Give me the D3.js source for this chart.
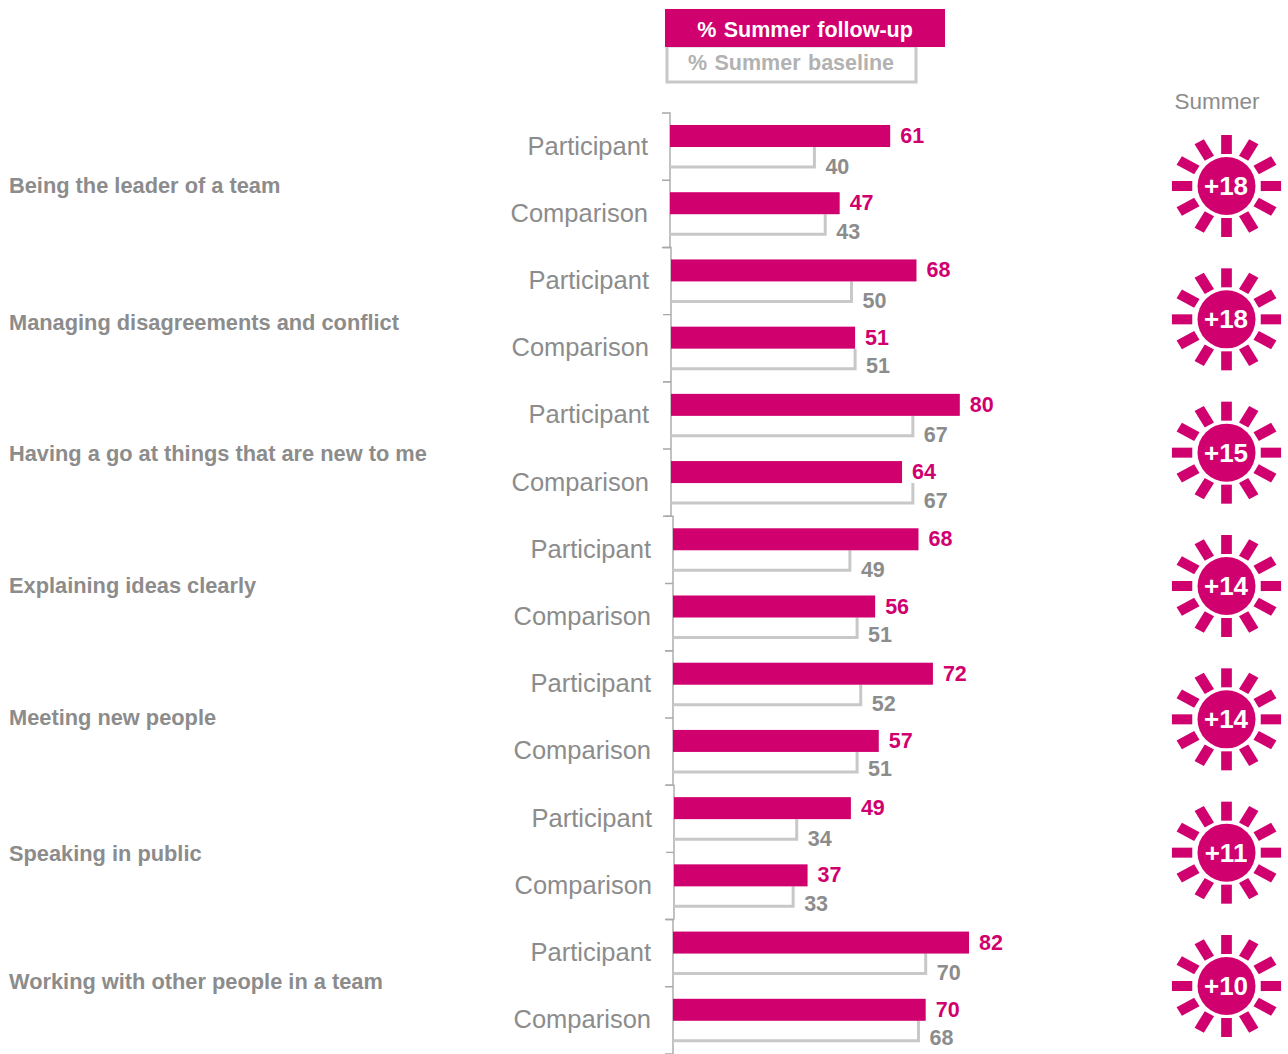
<!DOCTYPE html>
<html>
<head>
<meta charset="utf-8">
<script src="https://cdnjs.cloudflare.com/ajax/libs/d3/7.8.5/d3.min.js"></script>
<style>
html,body{margin:0;padding:0;background:#fff}
svg{display:block;font-family:"Liberation Sans",Arial,sans-serif}
</style>
</head>
<body>
<svg id="chart" width="1288" height="1054"></svg>
<script>
// Survey results: share of young people reporting confidence, by skill and group
const skills = [
  "Being the leader of a team",
  "Managing disagreements and conflict",
  "Having a go at things that are new to me",
  "Explaining ideas clearly",
  "Meeting new people",
  "Speaking in public",
  "Working with other people in a team"
];
const groups = ["Participant", "Comparison"];
const followUp = [[61,47],[68,51],[80,64],[68,56],[72,57],[49,37],[82,70]];
const baseline = [[40,43],[50,51],[67,67],[49,51],[52,51],[34,33],[70,68]];
const summerChange = ["+18","+18","+15","+14","+14","+11","+10"];
const legendLabels = ["% Summer follow-up", "% Summer baseline"];
const changeTitle = "Summer";

// Layout and colours
const PINK = "#d0006f", GREY_TEXT = "#8c8c8c", GREY_LINE = "#c8c8c8", AXIS = "#a8a8a8";
const panelX = [670, 671, 671, 673, 673, 674, 673];
const skillLabelY = [185, 322, 453, 585, 717, 853, 981];
const rayAngles = d3.range(12).map(i => i * 30);

const svg = d3.select("#chart");
const x = d3.scaleLinear().domain([0, 100]).range([0, 361]);
const rowKeys = d3.range(14);
const y = d3.scaleBand().domain(rowKeys).range([113, 1054]);
const sunY = d3.scalePoint().domain(d3.range(7)).range([186, 986]);

// Legend
const legend = svg.append("g");
legend.append("rect").attr("x", 667).attr("y", 46).attr("width", 249).attr("height", 36)
  .attr("fill", "#fff").attr("stroke", GREY_LINE).attr("stroke-width", 3);
legend.append("rect").attr("x", 665).attr("y", 9).attr("width", 280).attr("height", 38).attr("fill", PINK);
legend.append("text").text(legendLabels[0]).attr("x", 805).attr("y", 36.5)
  .attr("text-anchor", "middle").attr("fill", "#fff")
  .attr("font-size", 21.5).attr("font-weight", 700).attr("word-spacing", 1.5);
legend.append("text").text(legendLabels[1]).attr("x", 791).attr("y", 70)
  .attr("text-anchor", "middle").attr("fill", "#b2b2b2")
  .attr("font-size", 21.5).attr("font-weight", 700).attr("word-spacing", 1.5);

// Skill labels on the far left
svg.append("g").selectAll("text").data(skills).join("text")
  .text(d => d).attr("x", 9).attr("y", (d, i) => skillLabelY[i] + 7.5)
  .attr("fill", GREY_TEXT).attr("font-size", 21.8).attr("font-weight", 700);

// One panel per skill: axis, group labels and paired bars
skills.forEach((skill, s) => {
  const panel = svg.append("g").attr("transform", `translate(${panelX[s]},0)`);
  const rows = groups.map((g, r) => ({
    group: g, row: s * 2 + r, r, now: followUp[s][r], before: baseline[s][r]
  }));

  const top = y(rows[0].row), bottom = y(rows[1].row) + y.bandwidth();
  const mid = y(rows[1].row);
  panel.append("path")
    .attr("d", `M-8,${top}H0V${bottom}` + `M-8,${mid}H0` + `M-8,${bottom}H0`)
    .attr("fill", "none").attr("stroke", AXIS).attr("stroke-width", 1.4);

  const row = panel.selectAll("g.row").data(rows).join("g").attr("class", "row")
    .attr("transform", d => `translate(0,${y(d.row) + 12})`);

  // Baseline: open outline under the follow-up bar
  row.append("path")
    .attr("d", d => `M0,42H${x(d.before)}V22`)
    .attr("fill", "none").attr("stroke", GREY_LINE).attr("stroke-width", 3);

  // Follow-up: solid bar
  row.append("rect").attr("x", 0).attr("y", 0)
    .attr("width", d => x(d.now)).attr("height", 22).attr("fill", PINK);

  row.append("text").text(d => d.group)
    .attr("x", -22).attr("y", 21 + 8.5)
    .attr("text-anchor", "end").attr("fill", GREY_TEXT).attr("font-size", 25.5);

  row.append("text").text(d => d.now)
    .attr("x", d => x(d.now) + 10).attr("y", 18)
    .attr("fill", PINK).attr("font-size", 21.5).attr("font-weight", 700);

  row.append("text").text(d => d.before)
    .attr("x", d => x(d.before) + 11).attr("y", d => (d.r === 0 ? 41 : 39) + 7.5)
    .attr("fill", GREY_TEXT).attr("font-size", 21.5).attr("font-weight", 700);
});

// Summer change suns
svg.append("text").text(changeTitle).attr("x", 1217).attr("y", 109)
  .attr("text-anchor", "middle").attr("fill", GREY_TEXT).attr("font-size", 22.5);

const sun = svg.selectAll("g.sun").data(summerChange).join("g").attr("class", "sun")
  .attr("transform", (d, i) => `translate(1226.5,${sunY(i)})`);
sun.append("g").attr("transform", "scale(1.07,1)").selectAll("rect").data(rayAngles).join("rect")
  .attr("x", -5).attr("y", -51).attr("width", 10).attr("height", 19)
  .attr("transform", a => `rotate(${a})`).attr("fill", PINK);
sun.append("circle").attr("r", 29).attr("fill", PINK);
sun.append("text").text(d => d).attr("x", -0.5).attr("y", 9).attr("text-anchor", "middle")
  .attr("fill", "#fff").attr("font-size", 26).attr("font-weight", 700);
</script>
</body>
</html>
